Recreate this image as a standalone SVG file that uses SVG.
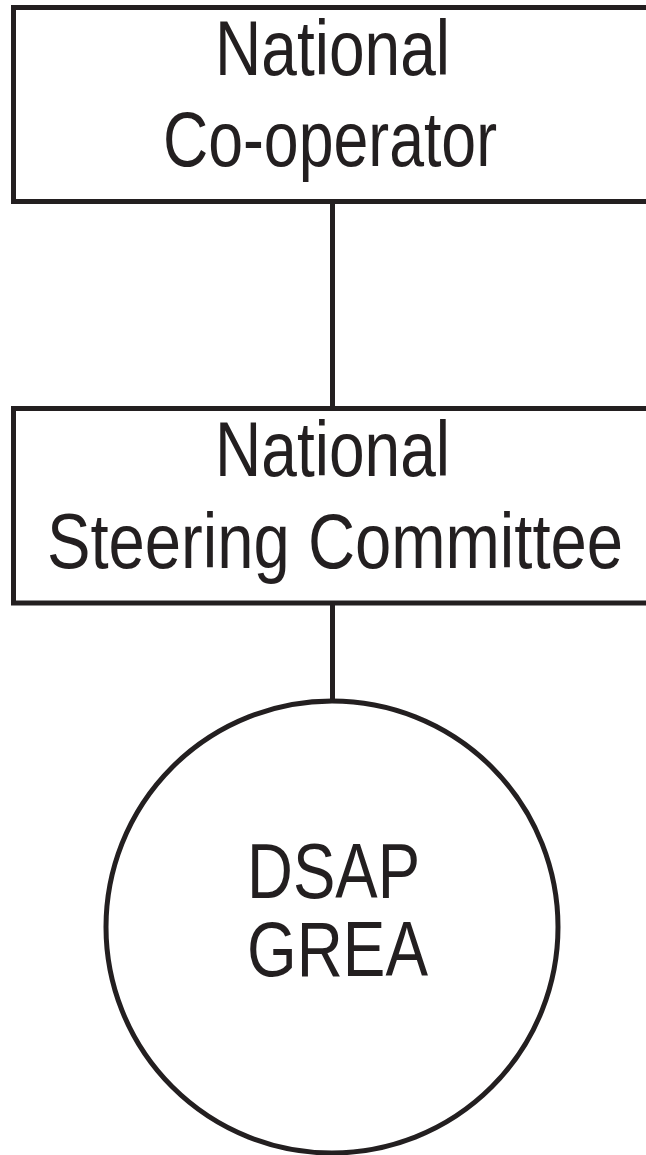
<svg xmlns="http://www.w3.org/2000/svg" width="646" height="1155" viewBox="0 0 646 1155">
<style>
.shape{fill:#ffffff;stroke:#231f20;stroke-width:5}
.conn{stroke:#231f20;stroke-width:5;fill:none}
.lbl{font-family:"Liberation Sans",Arial,sans-serif;font-size:78px;fill:#231f20;text-anchor:middle}
</style>
<rect width="646" height="1155" fill="#ffffff"/>
<g id="connectors">
<line class="conn" x1="332.5" y1="201.5" x2="332.5" y2="408.5"/>
<line class="conn" x1="332.5" y1="603" x2="332.5" y2="701"/>
</g>
<g id="national-cooperator">
<rect class="shape" x="13.5" y="7.5" width="640" height="194"/>
<text class="lbl" x="332.5" y="75" textLength="235" lengthAdjust="spacingAndGlyphs">National</text>
<text class="lbl" x="330" y="166" textLength="334" lengthAdjust="spacingAndGlyphs">Co-operator</text>
</g>
<g id="national-steering-committee">
<rect class="shape" x="13.5" y="408.5" width="640" height="194.5"/>
<text class="lbl" x="332.5" y="476" textLength="235" lengthAdjust="spacingAndGlyphs">National</text>
<text class="lbl" x="335" y="568" textLength="576" lengthAdjust="spacingAndGlyphs">Steering Committee</text>
</g>
<g id="dsap-grea">
<circle class="shape" cx="332" cy="927" r="226"/>
<text class="lbl" x="333.5" y="898" textLength="173" lengthAdjust="spacingAndGlyphs">DSAP</text>
<text class="lbl" x="337.5" y="976" textLength="181" lengthAdjust="spacingAndGlyphs">GREA</text>
</g>
</svg>
